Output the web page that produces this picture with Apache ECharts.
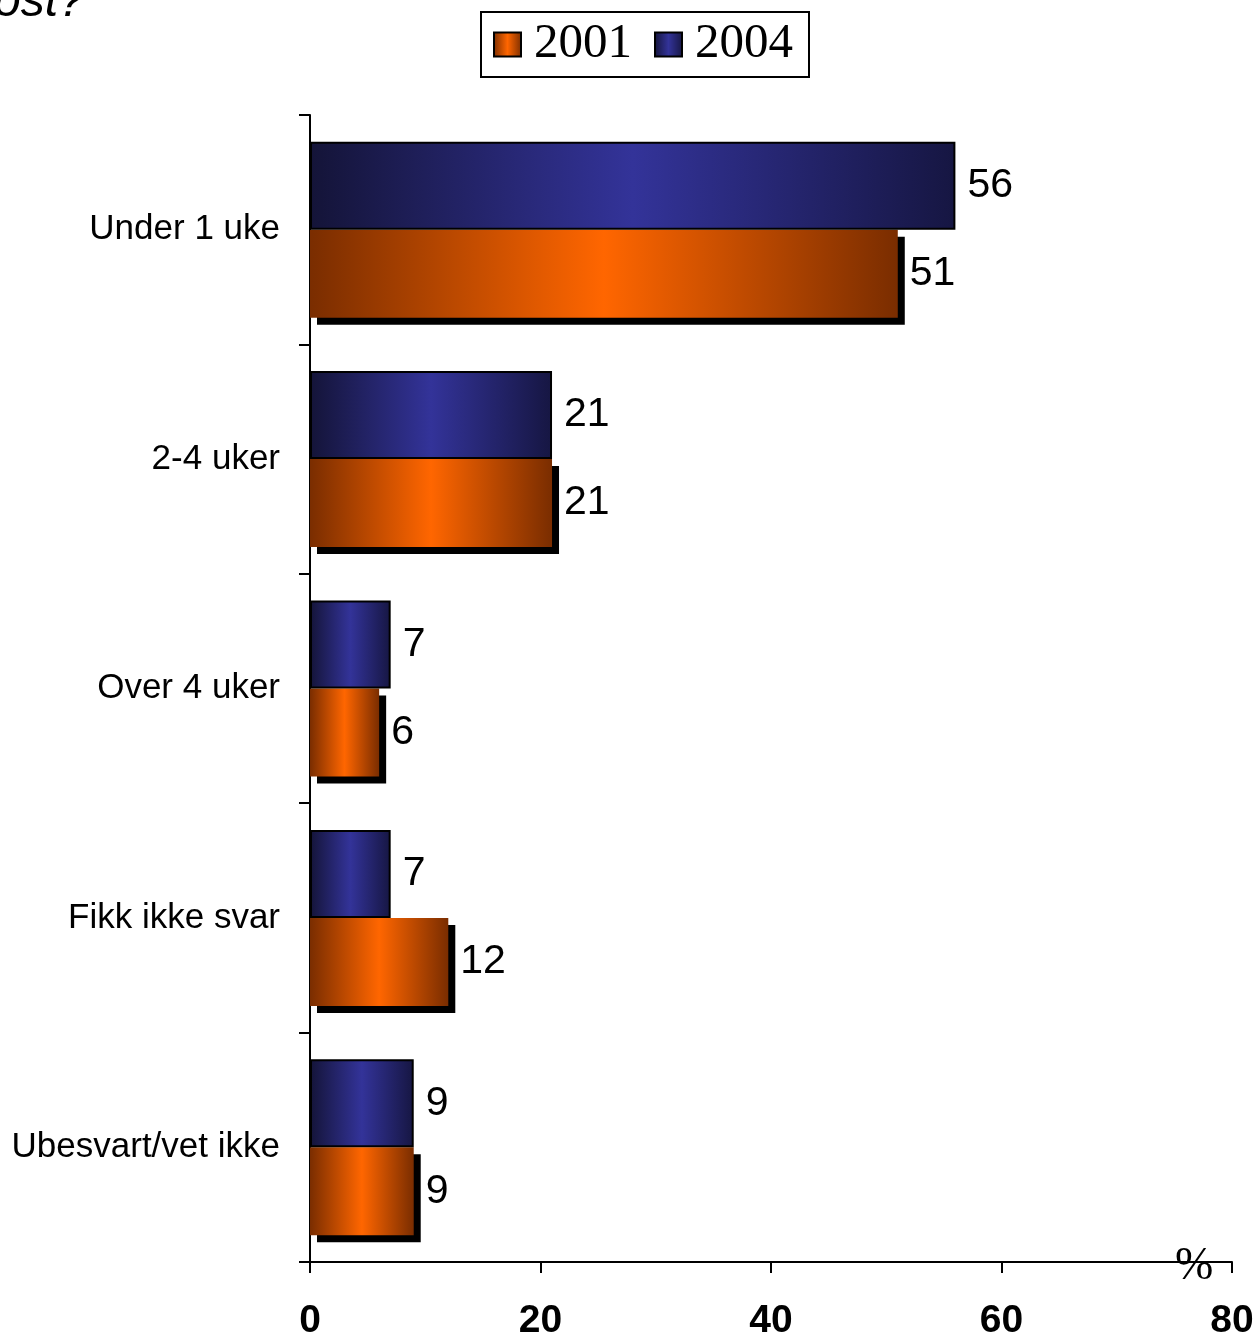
<!DOCTYPE html>
<html>
<head>
<meta charset="utf-8">
<script src="https://cdn.jsdelivr.net/npm/echarts@6/dist/echarts.min.js"></script>
<style>
html,body{margin:0;padding:0;background:#fff;}
#chart{width:1258px;height:1337px;}
</style>
</head>
<body>
<div id="chart"></div>
<script>
// ---- data ----
const categories = ['Under 1 uke', '2-4 uker', 'Over 4 uker', 'Fikk ikke svar', 'Ubesvart/vet ikke'];
const values2001 = [51, 21, 6, 12, 9];
const values2004 = [56, 21, 7, 7, 9];
const xTicks = [0, 20, 40, 60, 80];
const seriesNames = ['2001', '2004'];

const chart = echarts.init(document.getElementById('chart'));

const orangeGrad = new echarts.graphic.LinearGradient(0, 0, 1, 0, [
  {offset: 0, color: '#7a2d00'},
  {offset: 0.5, color: '#ff6600'},
  {offset: 1, color: '#7a2d00'}
]);
const blueGrad = new echarts.graphic.LinearGradient(0, 0, 1, 0, [
  {offset: 0, color: '#141438'},
  {offset: 0.5, color: '#333399'},
  {offset: 1, color: '#161642'}
]);

const labelStyle = {
  show: true, position: 'right', distance: 12,
  fontFamily: 'Liberation Sans, Arial, sans-serif', fontSize: 41, color: '#000'
};

chart.setOption({
  animation: false,
  backgroundColor: '#fff',
  grid: {left: 310, right: 26, top: 115, bottom: 75, containLabel: false, outerBoundsMode: 'none'},
  legend: {
    data: [
      {name: '2001', itemStyle: {shadowColor: 'rgba(0,0,0,0)', shadowOffsetX: 0, shadowOffsetY: 0, borderColor: '#000', borderWidth: 2}},
      {name: '2004'}
    ],
    left: 481, top: 12,
    padding: [8, 16, 8, 12],
    borderColor: '#000', borderWidth: 2,
    itemWidth: 27, itemHeight: 24, itemGap: 22,
    icon: 'rect',
    textStyle: {fontFamily: 'Liberation Serif, Times New Roman, serif', fontSize: 49, color: '#000', padding: [0, 0, 0, 8]}
  },
  xAxis: {
    type: 'value', min: 0, max: 80, interval: 20,
    axisLine: {show: true, lineStyle: {color: '#000', width: 2}},
    axisTick: {show: true, length: 11, lineStyle: {color: '#000', width: 2}},
    splitLine: {show: false},
    axisLabel: {
      margin: 40, fontFamily: 'Liberation Sans, Arial, sans-serif', fontWeight: 'bold', fontSize: 39, color: '#000',
      formatter: v => xTicks.includes(v) ? String(v) : ''
    }
  },
  yAxis: {
    type: 'category', data: categories, inverse: true,
    axisLine: {show: true, lineStyle: {color: '#000', width: 2}},
    axisTick: {show: true, length: 11, lineStyle: {color: '#000', width: 2}},
    axisLabel: {margin: 30, fontFamily: 'Liberation Sans, Arial, sans-serif', fontSize: 35, color: '#000'}
  },
  series: [
    {
      name: '2004', type: 'bar', data: values2004, barWidth: 88, barGap: '0%',
      itemStyle: {color: blueGrad, borderColor: '#000', borderWidth: 2},
      label: labelStyle, z: 3
    },
    {
      name: '2001', type: 'bar', data: values2001, barWidth: 88, barGap: '0%',
      itemStyle: {color: orangeGrad, borderWidth: 0,
        shadowColor: '#000', shadowBlur: 0, shadowOffsetX: 7, shadowOffsetY: 7},
      label: labelStyle, z: 2
    }
  ],
  graphic: [
    {type: 'text', left: -6, top: -21,
      style: {text: 'ost?', fontFamily: 'Liberation Sans, Arial, sans-serif', fontStyle: 'italic', fontSize: 48, fill: '#000'}},
    {type: 'text', left: 1175, top: 1244,
      style: {text: '%', fontFamily: 'Liberation Serif, Times New Roman, serif', fontSize: 46, fill: '#000'}}
  ]
});
</script>
</body>
</html>
